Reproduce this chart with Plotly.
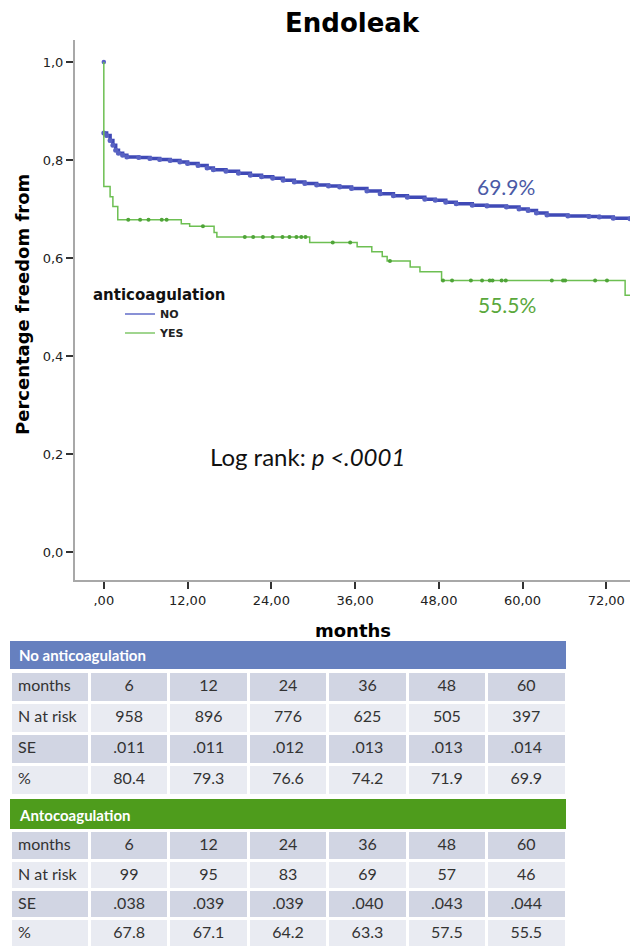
import numpy as np
import plotly.graph_objects as go

W, H = 630, 949

# ---------------- data ----------------
no_t = [0, 0, 0.4, 0.9, 1.3, 1.7, 2.1, 2.7, 3.3, 5.0, 6.6, 8.0, 9.5, 10.9, 12.0, 13.5,
        14.8, 15.7, 17.5, 19.3, 21.0, 22.6, 24.2, 25.7, 27.3, 28.8, 30.5, 32.2, 33.8,
        35.5, 37.7, 39.6, 41.5, 43.5, 46.0, 47.5, 49.0, 50.5, 52.8, 54.9, 57.7, 59.5,
        60.8, 62.0, 63.5, 66.5, 69.5, 71.0, 73.0, 75.4]
no_s = [1.0, 0.855, 0.850, 0.840, 0.830, 0.820, 0.814, 0.810, 0.806, 0.805, 0.803,
        0.801, 0.799, 0.796, 0.793, 0.789, 0.784, 0.780, 0.777, 0.773, 0.769, 0.766,
        0.763, 0.759, 0.755, 0.752, 0.749, 0.747, 0.745, 0.742, 0.737, 0.731, 0.727,
        0.724, 0.720, 0.718, 0.714, 0.711, 0.708, 0.706, 0.704, 0.700, 0.697, 0.692,
        0.688, 0.686, 0.685, 0.684, 0.681, 0.680]

yes_t = [0, 0, 0.9, 1.3, 2.0, 11.1, 12.3, 15.8, 16.2, 29.5, 36.3, 38.4, 39.9, 40.6,
         43.9, 45.3, 48.4, 74.7, 75.4]
yes_s = [1.0, 0.746, 0.725, 0.705, 0.678, 0.670, 0.665, 0.652, 0.643, 0.632, 0.623,
         0.613, 0.603, 0.594, 0.582, 0.572, 0.554, 0.524, 0.524]
yes_censor = [3.5, 5.2, 6.4, 8.3, 9.0, 14.2, 20.2, 21.4, 22.8, 24.2, 25.6, 26.6, 27.6,
              28.3, 28.9, 32.8, 35.3, 41.0, 48.6, 49.9, 52.6, 54.2, 55.3, 55.7, 57.0,
              57.6, 64.2, 65.8, 66.1, 70.4, 72.1]

x_ticks = [0, 12, 24, 36, 48, 60, 72]
x_ticktext = [",00", "12,00", "24,00", "36,00", "48,00", "60,00", "72,00"]
y_ticks = [0, 0.2, 0.4, 0.6, 0.8, 1.0]
y_ticktext = ["0,0", "0,2", "0,4", "0,6", "0,8", "1,0"]

months = [6, 12, 24, 36, 48, 60]
no_n = [958, 896, 776, 625, 505, 397]
no_se = [".011", ".011", ".012", ".013", ".013", ".014"]
no_pct = ["80.4", "79.3", "76.6", "74.2", "71.9", "69.9"]
yes_n = [99, 95, 83, 69, 57, 46]
yes_se = [".038", ".039", ".039", ".040", ".043", ".044"]
yes_pct = ["67.8", "67.1", "64.2", "63.3", "57.5", "55.5"]
row_labels = ["N at risk", "SE", "%"]

# ---------------- helpers ----------------
def px(x):
    return x / W

def py(y):
    return 1 - y / H

def step_value(ts, ss, t):
    i = np.searchsorted(np.array(ts), t, side="right") - 1
    return ss[max(i, 0)]

BLUE = "#3F49B6"
BLUE_M = "#5862C2"
GREEN = "#6DBF52"
GREEN_M = "#4FA438"

fig = go.Figure()

# NO curve (drop at time 0 is hidden under the green line in the original)
fig.add_trace(go.Scatter(x=no_t[1:], y=no_s[1:], mode="lines",
                         line=dict(color=BLUE, width=3.5, shape="hv"),
                         showlegend=False, hoverinfo="skip"))
fig.add_trace(go.Scatter(x=no_t[1:], y=no_s[1:], mode="markers",
                         marker=dict(color=BLUE_M, size=5), showlegend=False, hoverinfo="skip"))
fig.add_trace(go.Scatter(x=no_t[:1], y=no_s[:1], mode="markers", marker=dict(color=BLUE_M, size=4.5),
                         showlegend=False, hoverinfo="skip"))
# YES curve
fig.add_trace(go.Scatter(x=yes_t, y=yes_s, mode="lines", line=dict(color=GREEN, width=1.5, shape="hv"),
                         showlegend=False, hoverinfo="skip"))
fig.add_trace(go.Scatter(x=yes_censor, y=[step_value(yes_t, yes_s, t) for t in yes_censor],
                         mode="markers", marker=dict(color=GREEN_M, size=4),
                         showlegend=False, hoverinfo="skip"))
# legend entries
fig.add_trace(go.Scatter(x=[None], y=[None], mode="lines", line=dict(color="#4A55C0", width=1.3),
                         name="NO"))
fig.add_trace(go.Scatter(x=[None], y=[None], mode="lines", line=dict(color=GREEN, width=1.3),
                         name="YES"))

# ---------------- tables ----------------
LIGHT = "#E9EBF2"
DARK = "#D1D5E3"
TXT = "#333333"

def make_table(n, se, pct, ytop, ybot, hh, ch):
    cols = [row_labels] + [[str(n[i]), se[i], pct[i]] for i in range(len(months))]
    return go.Table(
        domain=dict(x=[px(10), px(566)], y=[py(ybot), py(ytop)]),
        columnwidth=[1] * 7,
        header=dict(values=["months"] + [str(m) for m in months],
                    fill_color=DARK, line=dict(color="white", width=3),
                    align=["left"] + ["center"] * 6, height=hh,
                    font=dict(family="Lato", size=16, color=TXT)),
        cells=dict(values=cols,
                   fill_color=[[LIGHT, DARK, LIGHT]] * 7,
                   line=dict(color="white", width=3),
                   align=["left"] + ["center"] * 6, height=ch,
                   font=dict(family="Lato", size=16, color=TXT)),
    )

fig.add_trace(make_table(no_n, no_se, no_pct, 671, 797, 31, 31))
fig.add_trace(make_table(yes_n, yes_se, yes_pct, 830, 949, 30, 29))

shapes = [
    dict(type="rect", xref="paper", yref="paper", x0=px(10), x1=px(566), y0=py(669), y1=py(641),
         fillcolor="#6680BF", line=dict(width=0), layer="below"),
    dict(type="rect", xref="paper", yref="paper", x0=px(10), x1=px(566), y0=py(829), y1=py(799),
         fillcolor="#4E9C1C", line=dict(width=0), layer="below"),
]

def ann(text, x, y, size, family, color, xanchor="center", angle=0):
    return dict(text=text, x=px(x), y=py(y), xref="paper", yref="paper", showarrow=False,
                xanchor=xanchor, yanchor="middle", textangle=angle,
                font=dict(family=family, size=size, color=color))

annotations = [
    ann("<b>Endoleak</b>", 352, 23, 26, "DejaVu Sans", "#000"),
    ann("<b>Percentage freedom from</b>", 22, 305, 18, "DejaVu Sans", "#000", angle=-90),
    ann("<b>months</b>", 353, 630, 18, "DejaVu Sans", "#000"),
    ann("69.9%", 506, 186, 21, "Lato", "#4B5AA6"),
    ann("55.5%", 507, 304, 21, "Lato", "#5AA83C"),
    ann("Log rank: <i>p &lt;.0001</i>", 307, 456, 24, "Lato", "#111"),
    ann("<b>No anticoagulation</b>", 17, 655, 15, "Lato", "white", xanchor="left"),
    ann("<b>Antocoagulation</b>", 17, 815, 15, "Lato", "white", xanchor="left"),
]

fig.update_layout(
    width=W, height=H, autosize=False,
    margin=dict(l=0, r=0, t=0, b=0),
    paper_bgcolor="white", plot_bgcolor="white",
    shapes=shapes, annotations=annotations,
    xaxis=dict(domain=[px(75), 1], range=[-4.13, 75.4], showline=True, linecolor="#A8A8A8",
               linewidth=2, ticks="outside", ticklen=7, tickwidth=1.5, tickcolor="#333",
               tickvals=x_ticks, ticktext=x_ticktext, showgrid=False, zeroline=False,
               tickfont=dict(family="DejaVu Sans", size=13, color="#222"), anchor="y"),
    yaxis=dict(domain=[py(580), py(40)], range=[-0.057, 1.045], showline=True, linecolor="#A8A8A8",
               linewidth=2, ticks="outside", ticklen=7, tickwidth=1.5, tickcolor="#333",
               tickvals=y_ticks, ticktext=y_ticktext, showgrid=False, zeroline=False,
               tickfont=dict(family="DejaVu Sans", size=13, color="#222"), anchor="x"),
    showlegend=True,
    legend=dict(x=px(91), y=py(280), xanchor="left", yanchor="top", bgcolor="rgba(0,0,0,0)",
                title=dict(text="<b>anticoagulation</b>", font=dict(family="DejaVu Sans", size=15, color="#111")),
                font=dict(family="DejaVu Sans", size=11, color="#222", weight="bold"),
                indentation=29, tracegroupgap=0),
)

fig.write_html("out.html", config={"displayModeBar": False},
               post_script="document.body.style.margin='0px';")
